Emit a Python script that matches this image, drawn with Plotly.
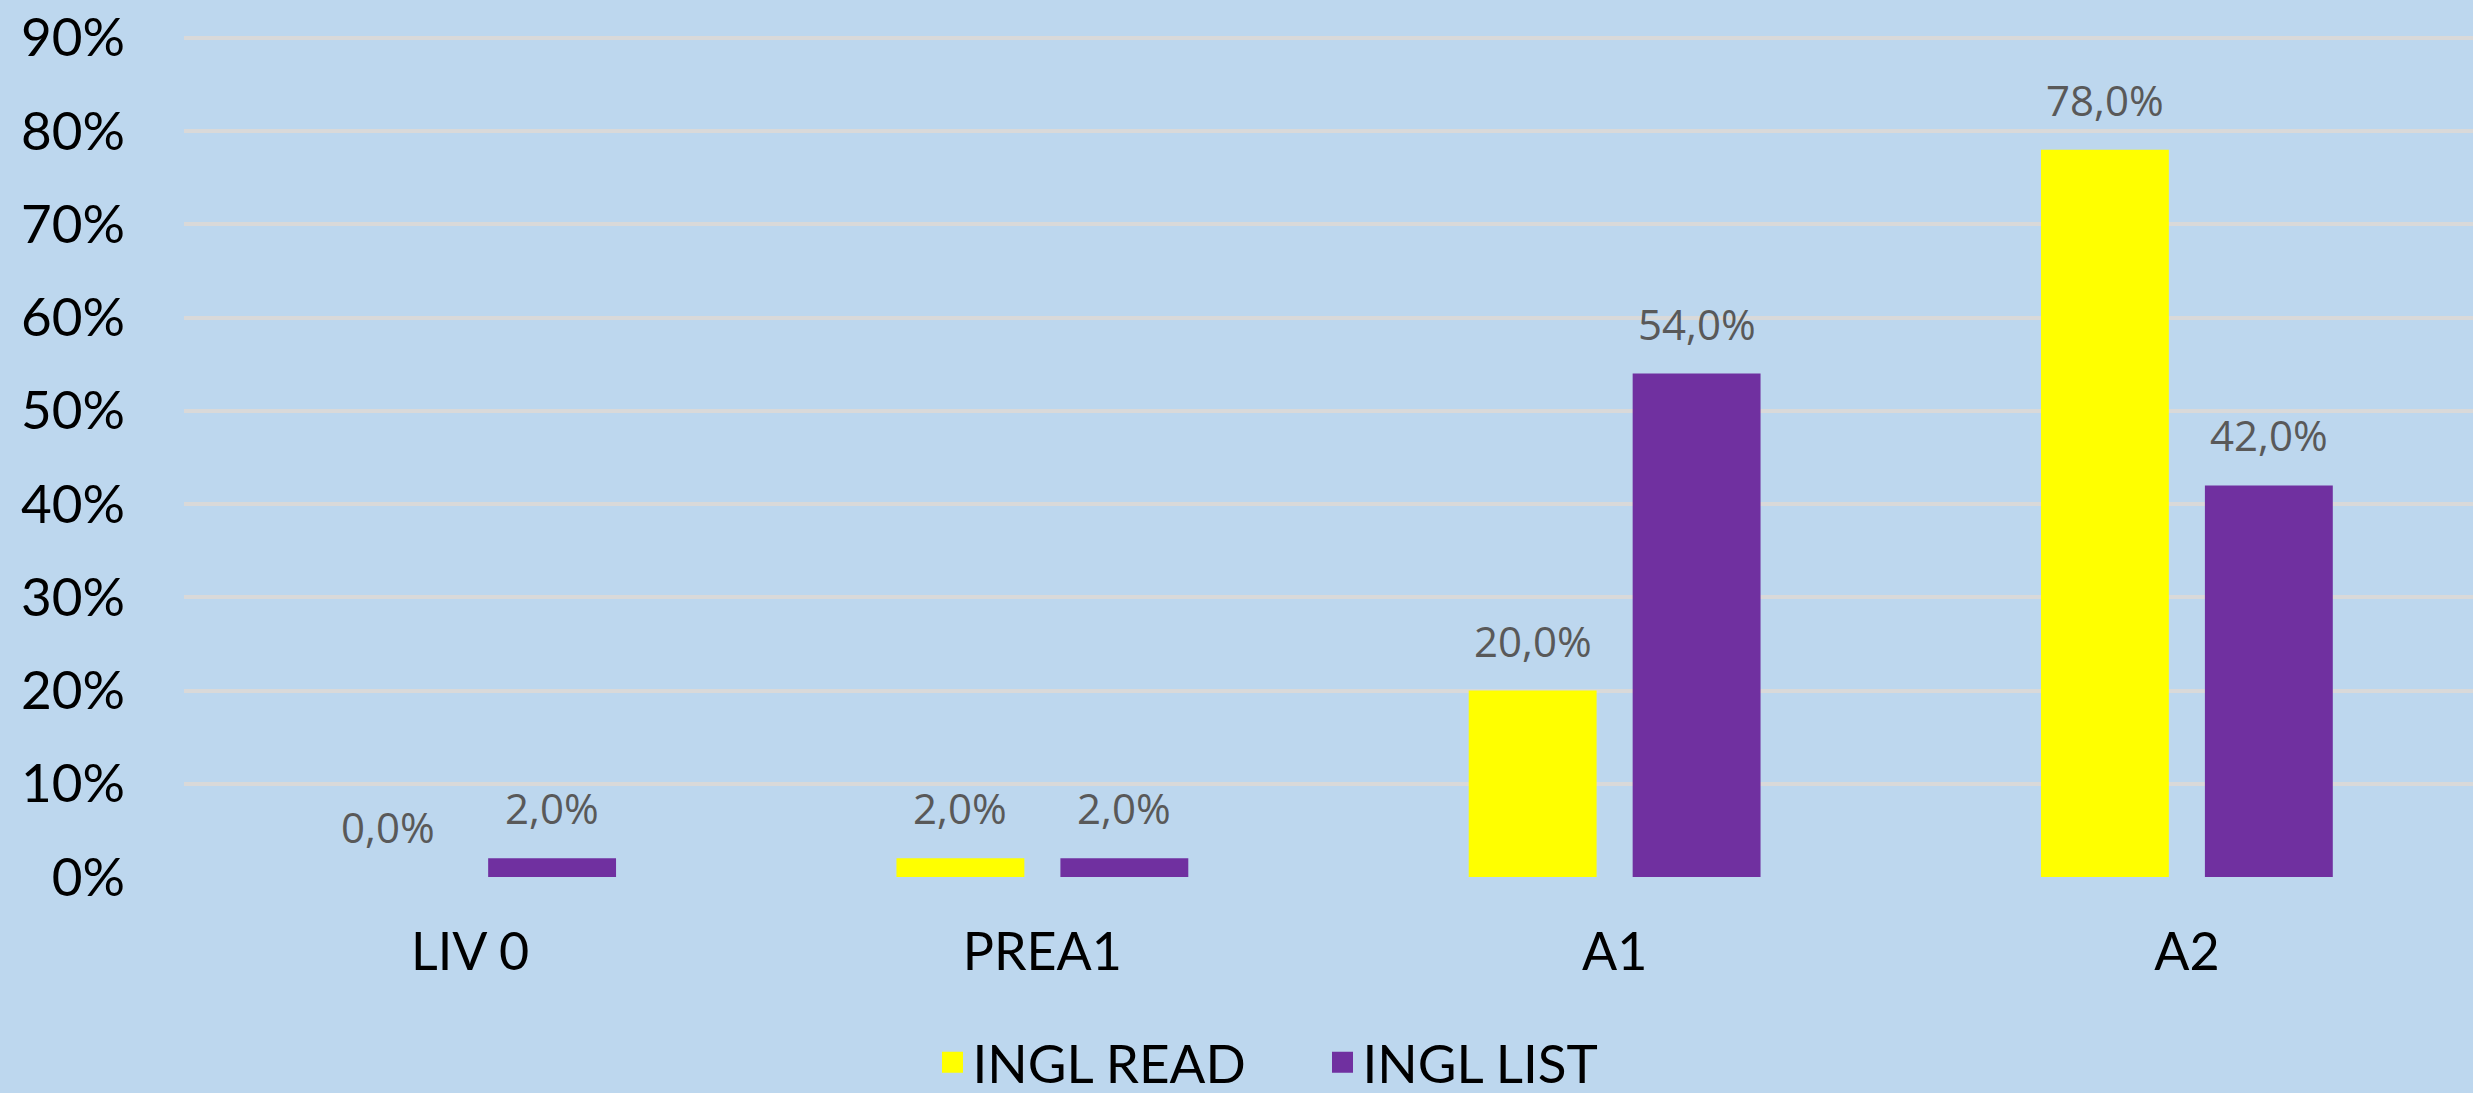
import plotly.graph_objects as go

categories = ["LIV 0", "PREA1", "A1", "A2"]
ingl_read = [0.0, 0.02, 0.20, 0.78]
ingl_list = [0.02, 0.02, 0.54, 0.42]
series_names = ["INGL READ", "INGL LIST"]
y_ticks = [0, 0.1, 0.2, 0.3, 0.4, 0.5, 0.6, 0.7, 0.8, 0.9]

colors = ["#FFFF00", "#7030A0"]
BG = "#BDD7EE"
FONT = "Lato, 'Open Sans', sans-serif"
LABEL_FONT = "'Open Sans', Lato, sans-serif"
BARGAP = 0.427
BARGROUPGAP = 0.22

fig = go.Figure()
for name, vals, col in zip(series_names, [ingl_read, ingl_list], colors):
    fig.add_trace(go.Bar(
        x=categories, y=vals, name=name, marker=dict(color=col, line=dict(width=0)),
        showlegend=False, legendgroup=name, hoverinfo="x+y",
    ))
# legend proxies (larger square keys)
for name, col in zip(series_names, colors):
    fig.add_trace(go.Scatter(
        x=[None], y=[None], mode="markers", name=name, legendgroup=name,
        marker=dict(symbol="square", size=16, color=col, line=dict(color=col, width=5)),
    ))

# data labels
half = (1 - BARGAP) / 4
for si, vals in enumerate([ingl_read, ingl_list]):
    off = -half if si == 0 else half
    for i, v in enumerate(vals):
        fig.add_annotation(
            x=i + off, y=v, xref="x", yref="y",
            text=f"{v*100:.1f}%".replace(".", ","),
            showarrow=False, yanchor="bottom", xanchor="center", yshift=20,
            font=dict(family=LABEL_FONT, size=42, color="#595959"),
        )

fig.update_layout(
    width=2473, height=1093,
    paper_bgcolor=BG, plot_bgcolor=BG,
    margin=dict(l=184, r=0, t=36, b=216),
    barmode="group", bargap=BARGAP, bargroupgap=BARGROUPGAP,
    separators=",.",
    showlegend=True,
    legend=dict(
        orientation="h", x=0.327, xanchor="left",
        yref="container", y=0.028, yanchor="middle",
        font=dict(family=FONT, size=53, color="#000000"),
        bgcolor="rgba(0,0,0,0)", itemsizing="trace",
        entrywidth=345, entrywidthmode="pixels",
    ),
    xaxis=dict(
        type="category", showgrid=False, zeroline=False, showline=False,
        tickfont=dict(family=FONT, size=52, color="#000000"),
        ticks="", ticklabelstandoff=40,
    ),
    yaxis=dict(
        range=[0, 0.902], tickvals=y_ticks, tickformat=".0%",
        showgrid=True, gridcolor="#D9D9D9", gridwidth=4,
        zeroline=False, showline=False, ticks="",
        tickfont=dict(family=FONT, size=53, color="#000000"),
        ticklabelstandoff=58,
    ),
)

fig.write_html(
    "out.html",
    config={"displayModeBar": False},
    post_script="document.body.style.margin='0';document.body.style.overflow='hidden';",
)
